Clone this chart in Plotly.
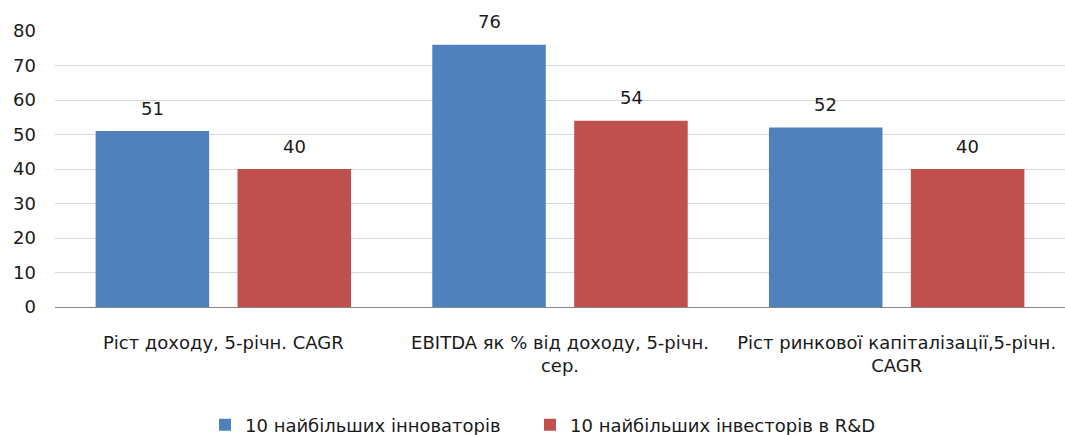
import plotly.graph_objects as go

categories = [
    "Ріст доходу, 5-річн. CAGR",
    "EBITDA як % від доходу, 5-річн.<br>сер.",
    "Ріст ринкової капіталізації,5-річн.<br>CAGR",
]
series_names = ["10 найбільших інноваторів", "10 найбільших інвесторів в R&D"]
innovators = [51, 76, 52]
rd_investors = [40, 54, 40]
colors = ["#4F81BD", "#C0504D"]

FONT = "DejaVu Sans"
SIZE = 18
W, H = 1065, 435
fig = go.Figure()
for name, vals, col, lg in zip(series_names, [innovators, rd_investors], colors,
                               ["legend", "legend2"]):
    fig.add_trace(go.Bar(x=categories, y=vals, name=name, marker_color=col,
                         marker_line_width=0, legend=lg))

# value labels above each bar
for offs, vals in zip([-71, 71], [innovators, rd_investors]):
    for c, v in zip(categories, vals):
        fig.add_annotation(x=c, y=v, text=str(v), showarrow=False, xshift=offs,
                           yshift=23, font=dict(family=FONT, size=SIZE, color="#1a1a1a"))

legend_common = dict(orientation="h", xref="container", xanchor="left",
                     yref="container", y=10 / H, yanchor="middle",
                     font=dict(family=FONT, size=SIZE), itemwidth=30)

fig.update_layout(
    width=W, height=H,
    margin=dict(l=55, r=0, t=31, b=128),
    paper_bgcolor="white", plot_bgcolor="white",
    barmode="group", bargap=0.157, bargroupgap=0.2,
    font=dict(family=FONT, size=SIZE, color="#1a1a1a"),
    showlegend=True,
    legend=dict(x=205 / W, **legend_common),
    legend2=dict(x=530 / W, **legend_common),
)
fig.update_yaxes(range=[0, 80], dtick=10, showgrid=True, gridcolor="#D9D9D9",
                 gridwidth=1, zeroline=False, showline=False, ticks="",
                 ticklabelstandoff=18, tickfont=dict(size=SIZE))
fig.update_xaxes(showline=True, linecolor="#868686", linewidth=1, ticks="",
                 ticklabelstandoff=19, tickfont=dict(size=SIZE), tickangle=0)

fig.write_html("out.html")
